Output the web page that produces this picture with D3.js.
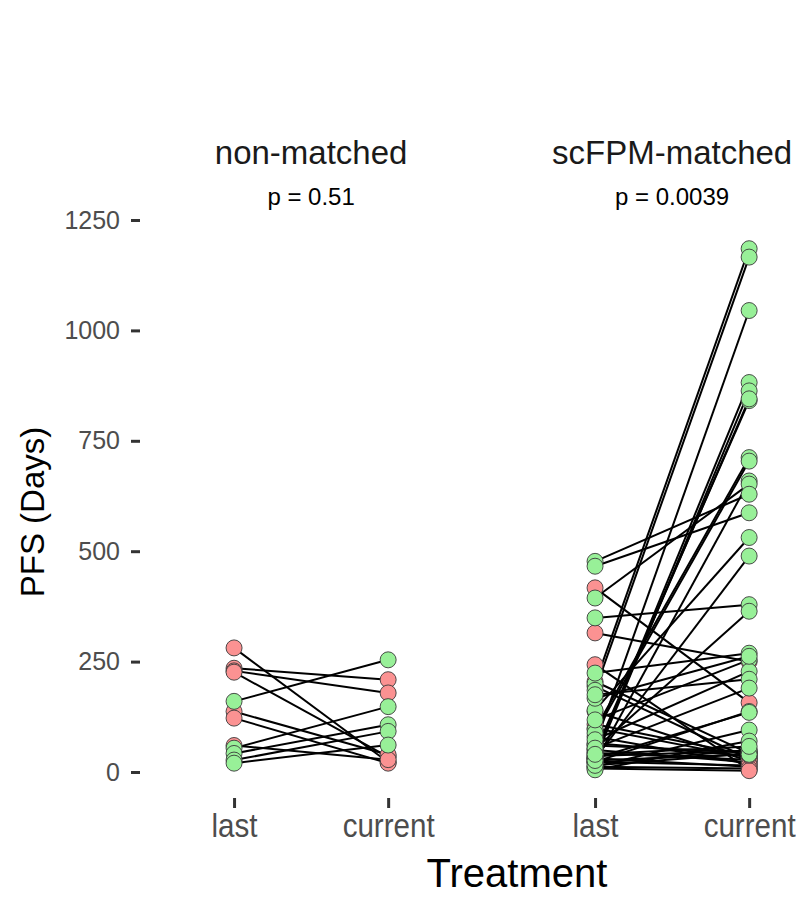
<!DOCTYPE html>
<html lang="en">
<head>
    <meta charset="UTF-8">
    <script src="https://d3js.org/d3.v7.min.js"></script>
    <title>PFS last vs current treatment</title>
    <style>
        body {
            margin: 0;
            background: #fff;
            font-family: "Liberation Sans", Arial, sans-serif;
        }
        .axis path.domain {
            display: none;
        }
        .axis line {
            stroke: #333;
            stroke-width: 3;
        }
    </style>
</head>
<body>
    <div id="chart"></div>

    <script>
        // Data (PFS in days), one entry per patient
        const facets = ["non-matched", "scFPM-matched"];
        const pValues = ["p = 0.51", "p = 0.0039"];
        const treatments = ["last", "current"];
        const yTicks = [0, 250, 500, 750, 1000, 1250];

        const nonMatchedLast    = [281, 235, 229, 226, 137, 122, 60, 160, 54, 42, 27, 20];
        const nonMatchedCurrent = [22, 209, 179, 34, 39, 20, 28, 254, 148, 107, 92, 61];

        const scfpmLast = [
            417, 315, 243, 205, 194, 137, 99, 80, 65, 50, 43, 31, 23, 12, 8, 60, 108,
            200, 185, 62, 33, 28, 45, 38, 96, 88, 22, 394, 477, 466, 140, 30, 349, 52,
            224, 118, 73, 167, 175, 54, 23, 31, 12, 5, 20, 15, 36, 26, 40
        ];
        const scfpmCurrent = [
            157, 250, 5, 42, 30, 25, 32, 18, 36, 22, 28, 12, 15, 8, 3, 45, 38,
            1185, 1166, 1045, 882, 863, 841, 845, 712, 704, 659, 652, 629, 587, 531, 489, 379, 364,
            269, 254, 228, 262, 210, 190, 137, 135, 95, 70, 50, 42, 48, 40, 58
        ];

        const width = 800;
        const height = 897;

        const svg = d3.select("#chart")
            .append("svg")
            .attr("width", width)
            .attr("height", height);

        // y scale shared by both panels
        const y = d3.scaleLinear().domain([0, 1250]).range([772, 220]);

        // panels: discrete x with ggplot-like expansion
        const panelW = 339;
        const panelLeft = [141.6, 502.6];
        const x = d3.scalePoint().domain(treatments).range([0, panelW]).padding(0.6);

        const fillUp = "#98f098";
        const fillDown = "#fb9292";

        const series = [
            { last: nonMatchedLast, current: nonMatchedCurrent },
            { last: scfpmLast, current: scfpmCurrent }
        ];

        // y axis
        const yAxis = svg.append("g")
            .attr("class", "axis")
            .attr("transform", "translate(140,0)")
            .call(d3.axisLeft(y).tickValues(yTicks).tickFormat(d3.format("d")).tickSize(9).tickPadding(11));
        yAxis.selectAll("text")
            .style("font-size", "25px")
            .style("fill", "#4d4d4d")
            .style("font-family", "'Liberation Sans', Arial, sans-serif");

        facets.forEach((name, i) => {
            const g = svg.append("g").attr("transform", `translate(${panelLeft[i]},0)`);
            const pairs = series[i].last.map((v, k) => ({ last: v, current: series[i].current[k] }));

            // x axis
            const xAxis = g.append("g")
                .attr("class", "axis")
                .attr("transform", "translate(0,798)")
                .call(d3.axisBottom(x).tickSize(10).tickPadding(5));
            xAxis.selectAll("text")
                .attr("transform", "scale(0.87,1)")
                .style("font-size", "34px")
                .style("fill", "#4d4d4d")
                .style("font-family", "'Liberation Sans', Arial, sans-serif");

            // facet strip title and p value
            g.append("text")
                .attr("x", panelW / 2)
                .attr("y", 164)
                .attr("text-anchor", "middle")
                .style("font-size", "33px")
                .style("fill", "#1a1a1a")
                .text(name);

            g.append("text")
                .attr("x", panelW / 2)
                .attr("y", 205)
                .attr("text-anchor", "middle")
                .style("font-size", "24px")
                .style("fill", "#000")
                .text(pValues[i]);

            // connecting lines
            g.selectAll("line.pair")
                .data(pairs)
                .join("line")
                .attr("class", "pair")
                .attr("x1", x("last"))
                .attr("y1", d => y(d.last))
                .attr("x2", x("current"))
                .attr("y2", d => y(d.current))
                .attr("stroke", "#000")
                .attr("stroke-width", 2);

            // points, decreasing pairs drawn first
            const pts = [];
            pairs.forEach(d => {
                const up = d.current > d.last;
                pts.push({ t: "last", v: d.last, up });
                pts.push({ t: "current", v: d.current, up });
            });
            pts.sort((a, b) => (a.up === b.up ? 0 : a.up ? 1 : -1));

            g.selectAll("circle")
                .data(pts)
                .join("circle")
                .attr("cx", d => x(d.t))
                .attr("cy", d => y(d.v))
                .attr("r", 8)
                .attr("fill", d => d.up ? fillUp : fillDown)
                .attr("stroke", "#3a3a3a")
                .attr("stroke-width", 0.9);
        });

        // axis titles
        svg.append("text")
            .attr("x", 517)
            .attr("y", 887)
            .attr("text-anchor", "middle")
            .style("font-size", "40px")
            .style("fill", "#000")
            .text("Treatment");

        svg.append("text")
            .attr("transform", "translate(44,512) rotate(-90)")
            .attr("text-anchor", "middle")
            .style("font-size", "33px")
            .style("fill", "#000")
            .text("PFS (Days)");
    </script>
</body>
</html>
